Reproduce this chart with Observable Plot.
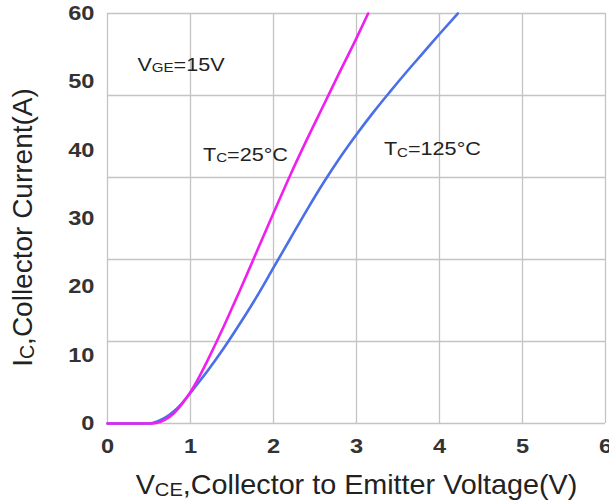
<!DOCTYPE html>
<html>
<head>
<meta charset="utf-8">
<script src="https://cdn.jsdelivr.net/npm/d3@7"></script>
<script src="https://cdn.jsdelivr.net/npm/@observablehq/plot@0.6"></script>
<style>
  html, body { margin: 0; padding: 0; background: #fff; }
  #chart { width: 609px; height: 504px; }
</style>
</head>
<body>
<div id="chart"></div>
<script>
// Tc = 25°C curve (magenta)
const v25 = [0, 0.55, 0.6, 0.7, 0.8, 0.9, 1.0, 1.1, 1.2, 1.3, 1.4, 1.5, 1.6, 1.8, 2.0, 2.2, 2.4, 2.6, 2.8, 3.0, 3.14];
const i25 = [0, 0, 0.1, 0.6, 1.5, 2.9, 4.6, 6.7, 9.1, 11.6, 14.2, 16.9, 19.6, 25.2, 30.8, 36.3, 41.5, 46.5, 51.5, 56.4, 60];
// Tc = 125°C curve (blue)
const v125 = [0, 0.5, 0.6, 0.7, 0.8, 0.9, 1.0, 1.2, 1.4, 1.6, 1.8, 2.0, 2.2, 2.4, 2.6, 2.8, 3.0, 3.2, 3.4, 3.6, 3.8, 4.0, 4.22];
const i125 = [0, 0, 0.3, 0.9, 1.8, 3.0, 4.5, 7.6, 11.0, 14.7, 18.6, 22.8, 27.0, 31.2, 35.2, 38.9, 42.3, 45.5, 48.5, 51.4, 54.2, 57.0, 60];

const xTicks = [0, 1, 2, 3, 4, 5, 6];
const yTicks = [0, 10, 20, 30, 40, 50, 60];
const yGrid = [0, 12, 24, 36, 48, 60];

const annotations = [
  {v: 0.36, i: 52.5, main: "V", sub: "GE", rest: "=15V"},
  {v: 1.15, i: 39.3, main: "T", sub: "C", rest: "=25°C"},
  {v: 3.33, i: 40.1, main: "T", sub: "C", rest: "=125°C"}
];
const xTitle = {main: "V", sub: "CE", rest: ",Collector to Emitter Voltage(V)"};
const yTitle = {main: "I", sub: "C", rest: ",Collector Current(A)"};

const curve25 = v25.map((v, k) => ({v, i: i25[k]}));
const curve125 = v125.map((v, k) => ({v, i: i125[k]}));

const font = "'Liberation Sans', Arial, sans-serif";
const gridColor = "#c4c4c4";
const full = d => d.main + d.sub + d.rest;

const plot = Plot.plot({
  width: 609,
  height: 504,
  marginLeft: 107,
  marginRight: 4,
  marginTop: 13,
  marginBottom: 81,
  style: {fontFamily: font, background: "#fff", overflow: "visible"},
  x: {domain: [0, 6]},
  y: {domain: [0, 60]},
  marks: [
    Plot.gridX(xTicks, {stroke: gridColor, strokeOpacity: 1, strokeWidth: 1.3}),
    Plot.gridY(yGrid, {stroke: gridColor, strokeOpacity: 1, strokeWidth: 1.3}),
    Plot.axisX(xTicks, {tickSize: 0, tickPadding: 15, fontSize: 20, fontWeight: "bold", fill: "#333", label: null}),
    Plot.axisY(yTicks, {tickSize: 0, tickPadding: 13, fontSize: 20, fontWeight: "bold", fill: "#333", label: null}),
    Plot.line(curve125, {x: "v", y: "i", stroke: "#4a6fe6", strokeWidth: 2.6, curve: "monotone-x"}),
    Plot.line(curve25, {x: "v", y: "i", stroke: "#f01ff0", strokeWidth: 2.6, curve: "monotone-x"}),
    Plot.text(annotations, {x: "v", y: "i", text: full, textAnchor: "start", lineAnchor: "middle", fontSize: 18, fill: "#222"}),
    Plot.text([xTitle], {frameAnchor: "bottom", dy: 62, text: full, textAnchor: "middle", lineAnchor: "middle", fontSize: 27, fill: "#222"}),
    Plot.text([yTitle], {frameAnchor: "left", dx: -84.6, dy: 9, rotate: -90, text: full, textAnchor: "middle", lineAnchor: "middle", fontSize: 28, fill: "#222"})
  ]
});

const svg = d3.select(plot);

// Subscripts as smaller tspans inside the same text elements,
// plus a slight horizontal widening like the reference typography
const subs = [...annotations, xTitle, yTitle];
const widenOf = s => annotations.includes(s) ? 1.2 : s === xTitle ? 1.065 : 1;
svg.selectAll("text").each(function() {
  const el = this;
  const s = subs.find(d => el.textContent === full(d));
  if (!s) return;
  const sel = d3.select(el);
  sel.text(null);
  sel.append("tspan").text(s.main);
  sel.append("tspan").attr("font-size", "0.7em").attr("dy", "0.1em").text(s.sub);
  sel.append("tspan").attr("dy", "-0.07em").text(s.rest);
  const sx = widenOf(s);
  if (sx !== 1) {
    const t = el.getAttribute("transform") || "";
    el.setAttribute("transform", `${t} scale(${sx},1)`);
  }
});

function widen(label, sx) {
  svg.selectAll(`g[aria-label="${label}"] text`).each(function() {
    const t = this.getAttribute("transform") || "";
    this.setAttribute("transform", `${t} scale(${sx},1)`);
  });
}
widen("x-axis tick label", 1.18);
widen("y-axis tick label", 1.18);

document.getElementById("chart").appendChild(plot);
</script>
</body>
</html>
